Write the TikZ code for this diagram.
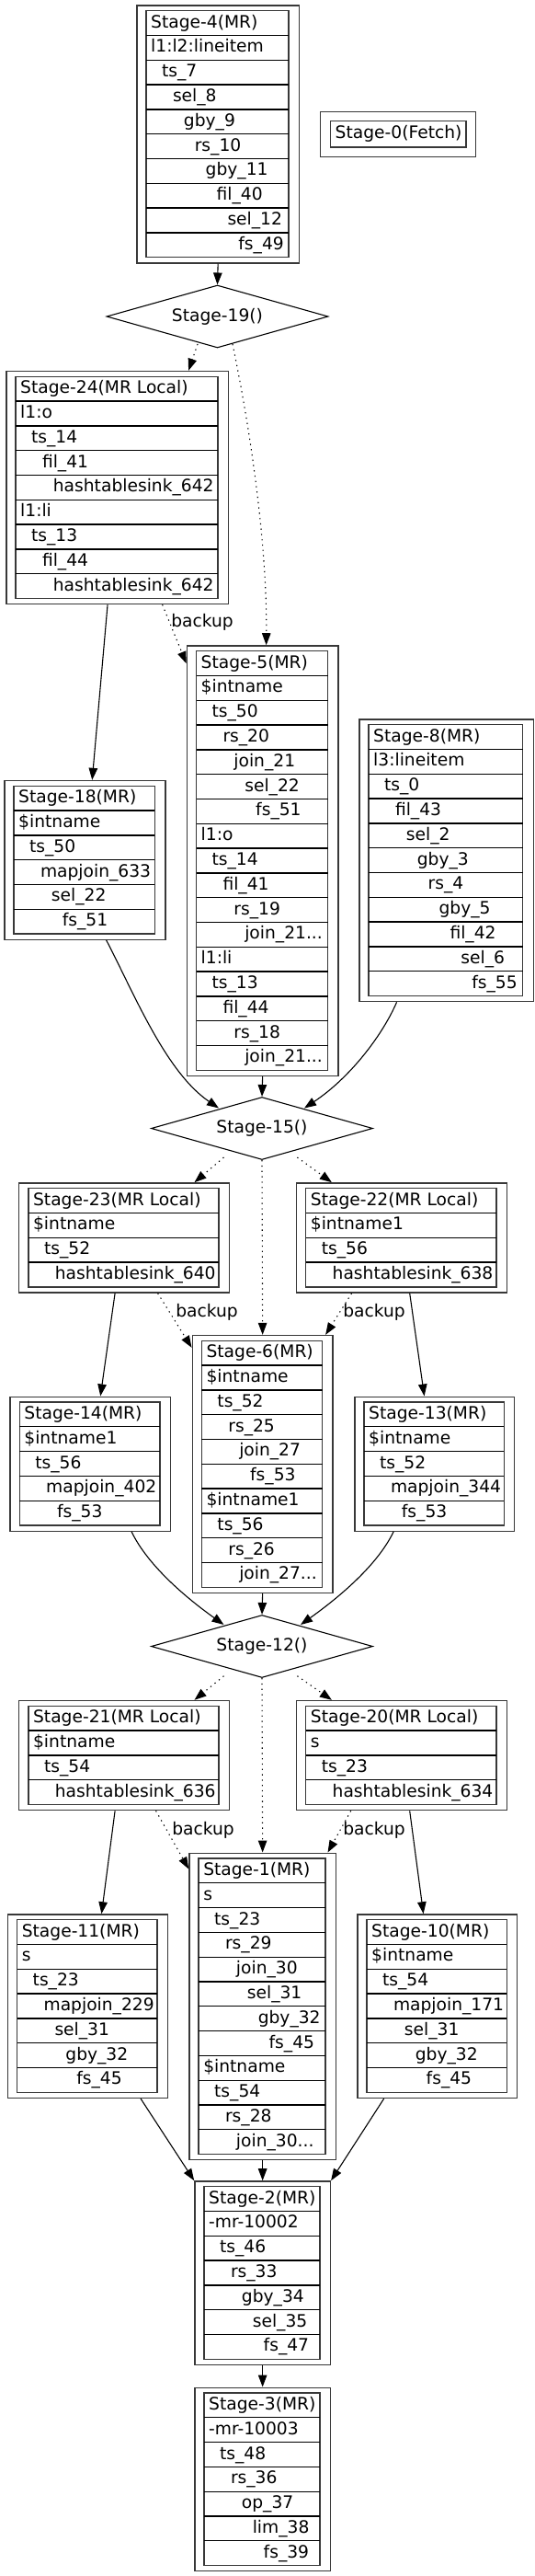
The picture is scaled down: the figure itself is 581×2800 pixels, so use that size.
\documentclass[tikz,border=0pt]{standalone}
\usepackage{fontspec}
\setmainfont{DejaVu Sans}
\usetikzlibrary{shapes.geometric,arrows.meta,calc}

\tikzset{
  outerbox/.style={draw=black!78, line width=1.3pt, rectangle, inner sep=0pt, fill=white},
  innerbox/.style={draw=black!78, line width=1.3pt},
  rowline/.style={draw=black, line width=1.3pt},
  rowtext/.style={anchor=base west, inner sep=0pt, font=\fontsize{18.67}{22}\selectfont},
  cond/.style={diamond, draw=black, line width=1.1pt, minimum width=241pt, minimum height=68pt, aspect=3.55, inner sep=0pt, font=\fontsize{18.67}{22}\selectfont},
  edge/.style={draw=black, line width=1.1pt, -{Triangle[length=13pt,width=9.5pt]}},
  dotedge/.style={edge, dash pattern=on 1.3pt off 4.5pt},
  lbl/.style={inner sep=0pt, font=\fontsize{18.67}{22}\selectfont},
}

\newcommand{\tdots}{.{}.{}.}
\newcommand{\stg}[7]{%
  \pgfmathsetmacro{\stgh}{#5*26.8}%
  \pgfmathsetmacro{\stgow}{#4+21.6}%
  \pgfmathsetmacro{\stgoh}{\stgh+12}%
  \node[outerbox, anchor=north west, minimum width=\stgow pt, minimum height=\stgoh pt] (#1) at (#2-10.8,#3-6.5) {};
  \draw[innerbox] (#2,#3) rectangle ++(#4,\stgh);
  \node[rowtext] (#1-h) at (#2+5,#3+18.4) {#6};
  \foreach \lev/\txt [count=\i] in {#7} {
    \draw[rowline] (#2,#3+\i*26.8) -- ++(#4,0);
    \node[rowtext] (#1-\i) at (#2+5+11.9*\lev,#3+\i*26.8+18.4) {\txt};
  }
}

\begin{document}
\begin{tikzpicture}[x=1pt,y=-1pt]
\useasboundingbox (0,0) rectangle (581,2800);

% stages
\stg{s4}{159}{11.7}{155}{10}{Stage-4(MR)}{0/l1:l2:lineitem,1/ts\_7,2/sel\_8,3/gby\_9,4/rs\_10,5/gby\_11,6/fil\_40,7/sel\_12,8/fs\_49}

\node[outerbox, minimum width=169pt, minimum height=49.3pt, anchor=north west] (s0) at (348,120.7) {};
\draw[innerbox] (359.5,131.7) rectangle (507,160);
\node[rowtext] (s0-h) at (364.5,150.6) {Stage-0(Fetch)};

\node[cond] (s19) at (236.5,344) {Stage-19()};

\stg{s24}{17}{409.3}{220}{9}{Stage-24(MR Local)}{0/l1:o,1/ts\_14,2/fil\_41,3/hashtablesink\_642,0/l1:li,1/ts\_13,2/fil\_44,3/hashtablesink\_642}
\stg{s5}{213.5}{707.7}{143}{17}{Stage-5(MR)}{0/\$intname,1/ts\_50,2/rs\_20,3/join\_21,4/sel\_22,5/fs\_51,0/l1:o,1/ts\_14,2/fil\_41,3/rs\_19,4/join\_21\tdots,0/l1:li,1/ts\_13,2/fil\_44,3/rs\_18,4/join\_21\tdots}
\stg{s18}{15}{854.3}{153.4}{6}{Stage-18(MR)}{0/\$intname,1/ts\_50,2/mapjoin\_633,3/sel\_22,4/fs\_51}
\stg{s8}{401}{787.7}{167.8}{11}{Stage-8(MR)}{0/l3:lineitem,1/ts\_0,2/fil\_43,3/sel\_2,4/gby\_3,5/rs\_4,6/gby\_5,7/fil\_42,8/sel\_6,9/fs\_55}

\node[cond] (s15) at (285,1226.5) {Stage-15()};

\stg{s23}{30.9}{1291.7}{207.1}{4}{Stage-23(MR Local)}{0/\$intname,1/ts\_52,2/hashtablesink\_640}
\stg{s22}{332.7}{1291.7}{207.3}{4}{Stage-22(MR Local)}{0/\$intname1,1/ts\_56,2/hashtablesink\_638}
\stg{s6}{219.35}{1457.3}{131.3}{10}{Stage-6(MR)}{0/\$intname,1/ts\_52,2/rs\_25,3/join\_27,4/fs\_53,0/\$intname1,1/ts\_56,2/rs\_26,3/join\_27\tdots}
\stg{s14}{21.2}{1524}{152.8}{5}{Stage-14(MR)}{0/\$intname1,1/ts\_56,2/mapjoin\_402,3/fs\_53}
\stg{s13}{396}{1524}{152.3}{5}{Stage-13(MR)}{0/\$intname,1/ts\_52,2/mapjoin\_344,3/fs\_53}

\node[cond] (s12) at (285,1789.5) {Stage-12()};

\stg{s21}{30.9}{1854.3}{207.1}{4}{Stage-21(MR Local)}{0/\$intname,1/ts\_54,2/hashtablesink\_636}
\stg{s20}{332.7}{1854.3}{207.3}{4}{Stage-20(MR Local)}{0/s,1/ts\_23,2/hashtablesink\_634}
\stg{s1}{216.05}{2020}{137.9}{12}{Stage-1(MR)}{0/s,1/ts\_23,2/rs\_29,3/join\_30,4/sel\_31,5/gby\_32,6/fs\_45,0/\$intname,1/ts\_54,2/rs\_28,3/join\_30\tdots}
\stg{s11}{18.6}{2086.7}{152.4}{7}{Stage-11(MR)}{0/s,1/ts\_23,2/mapjoin\_229,3/sel\_31,4/gby\_32,5/fs\_45}
\stg{s10}{399}{2086.7}{152.3}{7}{Stage-10(MR)}{0/\$intname,1/ts\_54,2/mapjoin\_171,3/sel\_31,4/gby\_32,5/fs\_45}
\stg{s2}{222}{2376.7}{126}{7}{Stage-2(MR)}{0/-mr-10002,1/ts\_46,2/rs\_33,3/gby\_34,4/sel\_35,5/fs\_47}
\stg{s3}{222}{2601}{126}{7}{Stage-3(MR)}{0/-mr-10003,1/ts\_48,2/rs\_36,3/op\_37,4/lim\_38,5/fs\_39}

% labels
\node[lbl] (b1) at (220,676.7) {backup};
\node[lbl] (b2) at (225,1426.7) {backup};
\node[lbl] (b3) at (407,1426.7) {backup};
\node[lbl] (b4) at (221,1989.3) {backup};
\node[lbl] (b5) at (407,1989.3) {backup};

% edges
\draw[edge] (s4.south) -- (s19.north);
\draw[dotedge] ($(s19.center)+(-21.5,30)$) -- ($(s24.north east)+(-44,0)$);
\draw[dotedge] ($(s19.center)+(16.5,30)$) .. controls +(22,106) and +(1,-101) .. ($(s5.north)+(4,0)$);
\draw[dotedge] ($(s24.south)+(49,0)$) -- ($(s5.north west)+(0,20)$);
\draw[edge] ($(s24.south)+(-10.6,0)$) -- ($(s18.north)+(7.9,0)$);
\draw[edge] ($(s18.south)+(23.3,0)$) .. controls +(30,57.4) and +(-58,-39.5) .. ($(s15.center)+(-47,-22)$);
\draw[edge] (s5.south) -- (s15.north);
\draw[edge] ($(s8.south)+(-54,0)$) .. controls +(-16,37) and +(49,-32.5) .. ($(s15.center)+(46,-22)$);

\draw[dotedge] ($(s15.center)+(-41.5,31.5)$) -- ($(s23.north east)+(-38.6,0)$);
\draw[dotedge] (s15.south) -- (s6.north);
\draw[dotedge] ($(s15.center)+(38.4,31.5)$) -- ($(s22.north west)+(39,0)$);
\draw[dotedge] ($(s23.south)+(36.5,0)$) -- ($(s6.north west)+(0,14)$);
\draw[dotedge] ($(s22.south)+(-54.4,0)$) -- ($(s6.north east)+(-8.6,0)$);
\draw[edge] ($(s23.south)+(-10,0)$) -- ($(s14.north)+(11,0)$);
\draw[edge] ($(s22.south)+(8.7,0)$) -- ($(s13.north)+(-11.2,0)$);
\draw[edge] ($(s14.south)+(44.8,0)$) .. controls +(17.6,36.5) and +(-42,-30) .. ($(s12.center)+(-41.5,-23.5)$);
\draw[edge] (s6.south) -- (s12.north);
\draw[edge] ($(s13.south)+(-44.65,0)$) .. controls +(-17.5,36.5) and +(42,-30) .. ($(s12.center)+(42,-23.5)$);

\draw[dotedge] ($(s12.center)+(-41.5,32.2)$) -- ($(s21.north east)+(-38.6,0)$);
\draw[dotedge] (s12.south) -- (s1.north);
\draw[dotedge] ($(s12.center)+(38.4,32.2)$) -- ($(s20.north west)+(39,0)$);
\draw[dotedge] ($(s21.south)+(34.5,0)$) -- ($(s1.north west)+(0,18)$);
\draw[dotedge] ($(s20.south)+(-55.3,0)$) -- ($(s1.north east)+(-9.5,0)$);
\draw[edge] ($(s21.south)+(-10,0)$) -- ($(s11.north)+(15,0)$);
\draw[edge] ($(s20.south)+(8.7,0)$) -- ($(s10.north)+(-15.2,0)$);
\draw[edge] ($(s11.south)+(57.6,0)$) -- (s2.north west);
\draw[edge] (s1.south) -- (s2.north);
\draw[edge] ($(s10.south)+(-58.15,0)$) -- (s2.north east);
\draw[edge] (s2.south) -- (s3.north);
\end{tikzpicture}
\end{document}
